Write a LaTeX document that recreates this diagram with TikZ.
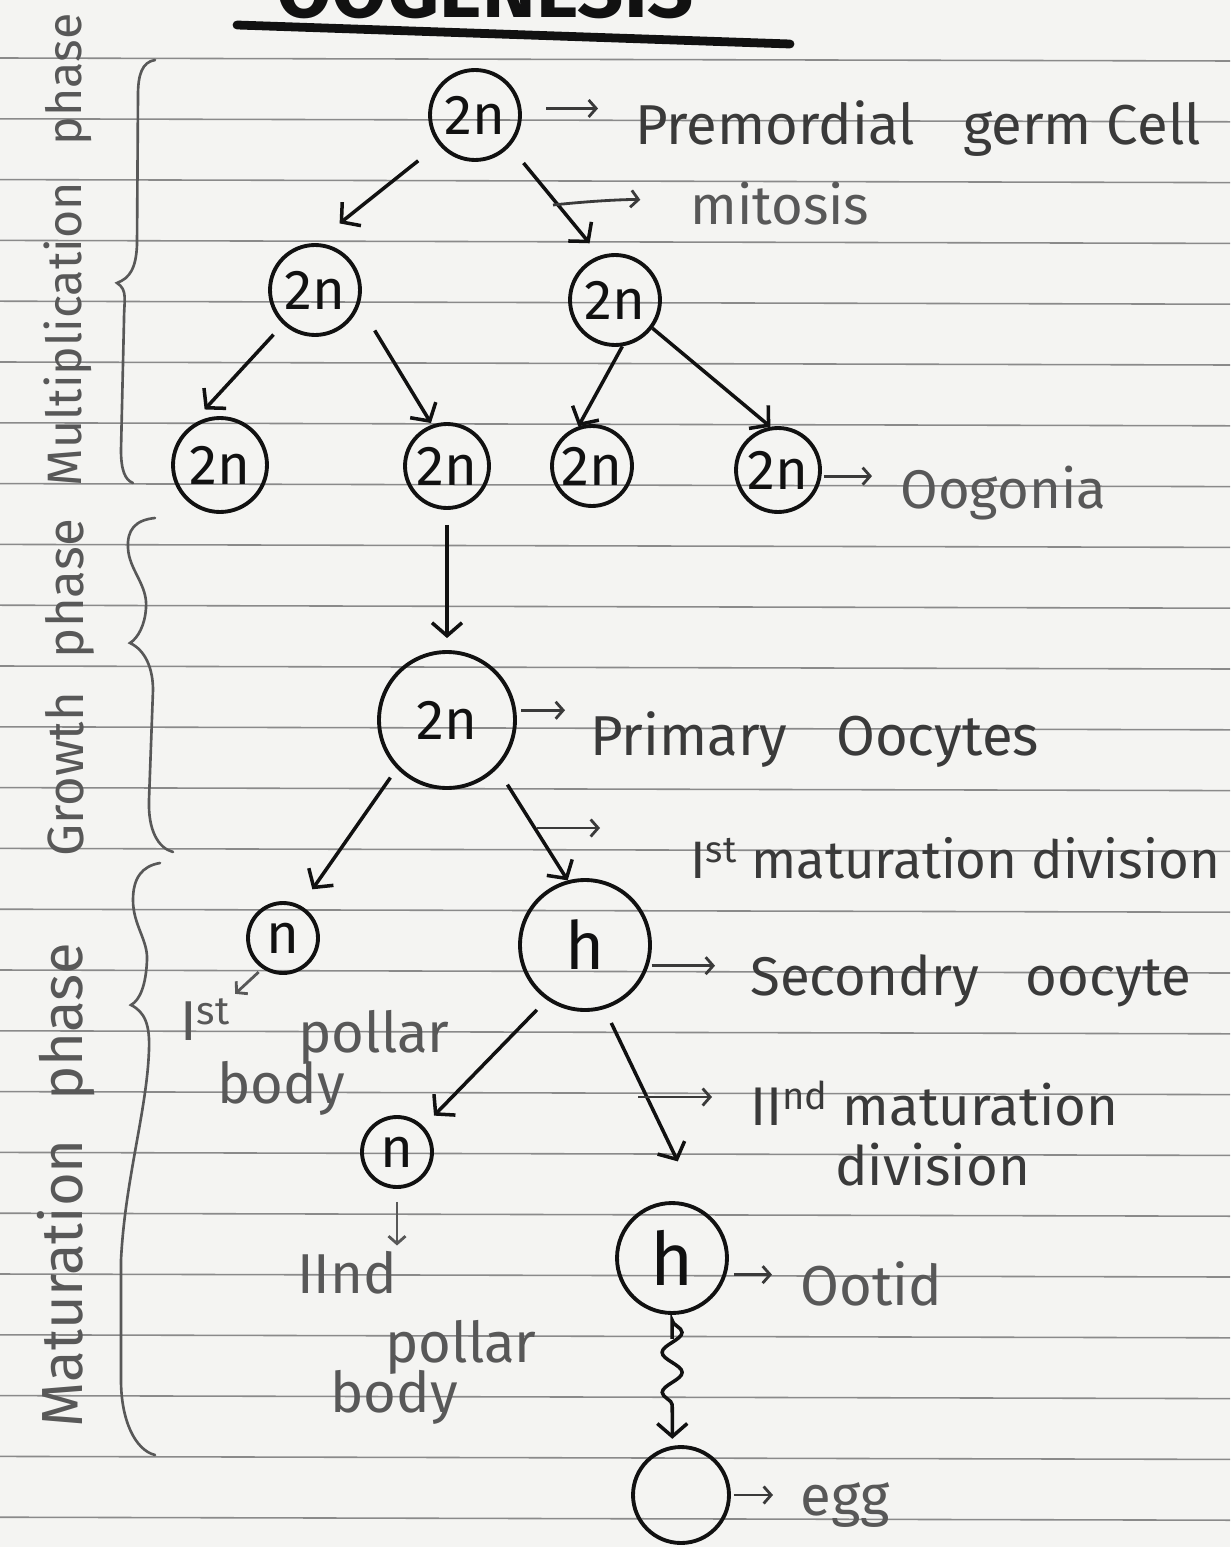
\documentclass[tikz,border=0pt]{standalone}
\usepackage{fontspec}
\setmainfont{Fira Sans}
\usetikzlibrary{arrows.meta,decorations.pathmorphing}
\definecolor{paper}{HTML}{F4F4F2}
\definecolor{ruling}{HTML}{8A8A8A}
\definecolor{ink}{HTML}{111111}
\definecolor{pencil}{HTML}{3A3A3A}
\definecolor{lead}{HTML}{585858}
\tikzset{
  cell/.style={circle, draw=ink, line width=2.2pt, inner sep=0pt, text=ink,
    font=\fontsize{32}{32}\selectfont},
  tree/.style={draw=ink, line width=2pt, -{Straight Barb[length=2.6mm,width=6mm]}},
  tag/.style={draw=pencil, line width=1.6pt, -{Straight Barb[length=1.5mm,width=3.4mm]}},
  note/.style={text=pencil, inner sep=0pt, anchor=base west,
    font=\fontsize{32}{36}\selectfont},
  phase/.style={text=lead, inner sep=0pt, rotate=90,
    font=\fontsize{29}{34}\selectfont},
  brace/.style={draw=lead, line width=1.5pt, line cap=round},
}
\begin{document}
\begin{tikzpicture}[x=0.02cm, y=-0.02cm]
\useasboundingbox (0,0) rectangle (1230,1547);
\fill[paper] (0,0) rectangle (1230,1547);
% ruled notebook lines
\foreach \k in {0,...,24}
  \draw[ruling, line width=0.9pt] (0,{58+60.8*\k}) -- (1230,{61+60.8*\k});

% heading, running off the top edge, with its underline
\node[anchor=base, inner sep=0pt, text=ink,
  font=\bfseries\fontsize{46}{46}\selectfont] (title) at (485,18) {OOGENESIS};
\draw[ink, line width=5pt, line cap=round] (237,25) -- (790,44);

% cells
\node[cell, minimum size=1.8cm]  (pgc) at (475,115) {2n};
\node[cell, minimum size=1.8cm]  (ga)  at (315,290) {2n};
\node[cell, minimum size=1.8cm]  (gb)  at (615,300) {2n};
\node[cell, minimum size=1.88cm] (og1) at (220,465) {2n};
\node[cell, minimum size=1.68cm] (og2) at (447,466) {2n};
\node[cell, minimum size=1.6cm]  (og3) at (592,466) {2n};
\node[cell, minimum size=1.68cm] (og4) at (778,470) {2n};
\node[cell, minimum size=2.72cm] (po)  at (447,720) {2n};
\node[cell, minimum size=1.4cm]  (pb1) at (283,938) {n};
\node[cell, minimum size=2.6cm, font=\fontsize{38}{38}\selectfont] (so) at (585,945) {h};
\node[cell, minimum size=1.4cm]  (pb2) at (397,1152) {n};
\node[cell, minimum size=2.2cm, font=\fontsize{42}{42}\selectfont] (ot) at (672,1258) {h};
\node[cell, minimum size=1.92cm] (egg) at (681,1495) {};

% divisions
\draw[tree, shorten <=0.52cm, shorten >=0.63cm] (pgc.219) -- (ga.north);
\draw[tree, shorten <=0.43cm, shorten >=0.32cm] (pgc.318) -- (gb.109);
\draw[tree, shorten <=0.28cm, shorten >=0.62cm] (ga.227) -- (og1.138);
\draw[tree, shorten <=0.59cm, shorten >=0.04cm] (ga.341) -- (og2.110);
\draw[tree] (gb.279) -- (og3.109);
\draw[tree] (gb.323) -- (og4.100);
\draw[tree, shorten <=0.3cm, shorten >=0.24cm] (og2.south) -- (po.north);
\draw[tree, shorten <=0.22cm, shorten >=0.4cm] (po.224) -- (pb1.61);
\draw[tree, shorten <=0.38cm] (po.316) -- (so.105);
\draw[tree, shorten <=0.28cm, shorten >=0.3cm] (so.235) -- (pb2.44);
\draw[tree, shorten <=0.31cm, shorten >=1.05cm] (so.287) -- (ot.60);
\draw[tree, decorate, decoration={snake, segment length=0.8cm, amplitude=0.2cm,
  pre length=0.1cm, post length=0.7cm}, shorten <=0.48cm, shorten >=0.14cm]
  (ot.south) -- (egg.100);

% labels
\node[note] (lpgc) at (635,145) {Premordial\hspace{0.6em} germ Cell};
\node[note, text=lead, font=\fontsize{31}{36}\selectfont] (lmit) at (690,225) {mitosis};
\node[note, text=lead, font=\fontsize{31}{36}\selectfont] (loog) at (900,508) {Oogonia};
\node[note] (lpo) at (590,755) {Primary\hspace{0.6em} Oocytes};
\node[note, font=\fontsize{30}{36}\selectfont] (lmd1) at (690,878) {I\textsuperscript{st} maturation division};
\node[note, font=\fontsize{31}{36}\selectfont] (lso) at (750,995) {Secondry\hspace{0.6em} oocyte};
\node[note, font=\fontsize{31}{36}\selectfont] (lmd2a) at (750,1125) {II\textsuperscript{nd} maturation};
\node[note, font=\fontsize{31}{36}\selectfont] (lmd2b) at (835,1185) {division};
\node[note, text=lead] (lot) at (800,1305) {Ootid};
\node[note, text=lead] (legg) at (800,1515) {egg};
\node[note, text=lead] (pb1a) at (180,1040) {I\textsuperscript{st}};
\node[note, text=lead] (pb1b) at (298,1052) {pollar};
\node[note, text=lead] (pb1c) at (217,1103) {body};
\node[note, text=lead] (pb2a) at (297,1293) {IInd};
\node[note, text=lead] (pb2b) at (385,1362) {pollar};
\node[note, text=lead] (pb2c) at (330,1412) {body};

% pointers from cells and divisions to their labels
\coordinate (mitA) at (553,205);
\coordinate (mdA) at (537,828);
\coordinate (mdB) at (638,1097);
\draw[tag, shorten <=0.5cm, shorten >=0.74cm] (pgc.8) -- (pgc.8 -| lpgc.west);
\draw[tag, shorten >=1cm] (mitA) to[bend left=6] (mitA -| lmit.west);
\draw[tag, shorten <=0.04cm, shorten >=0.56cm] (og4.352) -- (og4.352 -| loog.west);
\draw[tag, shorten <=0.1cm, shorten >=0.5cm] (po.8) -- (po.8 -| lpo.west);
\draw[tag, shorten >=1.8cm] (mdA) -- (mdA -| lmd1.west);
\draw[tag, shorten <=0.06cm, shorten >=0.7cm] (so.342) -- (so.342 -| lso.west);
\draw[tag, shorten >=0.76cm] (mdB) -- (mdB -| lmd2a.west);
\draw[tag, shorten <=0.15cm, shorten >=0.56cm] (ot.343) -- (ot.343 -| lot.west);
\draw[tag, shorten <=0.06cm, shorten >=0.54cm] (egg.east) -- (egg.east -| legg.west);
\draw[tag, draw=lead, shorten <=0.1cm, shorten >=0.12cm] (pb1.236) -- (pb1a.north east);
\draw[tag, draw=lead, shorten <=0.26cm, shorten >=0.1cm] (pb2.south) -- (pb2.south |- pb2a.north);

% phase braces
\draw[brace] (155,60) .. controls (142,62) and (138,75) .. (138,95) -- (137,245)
  .. controls (136,268) and (130,278) .. (117,283)
  .. controls (128,290) and (124,300) .. (124,320) -- (121,450)
  .. controls (121,470) and (125,480) .. (133,483);
\draw[brace] (155,518) .. controls (135,520) and (127,530) .. (128,548)
  .. controls (129,570) and (148,585) .. (146,608)
  .. controls (145,625) and (138,638) .. (130,643)
  .. controls (145,650) and (153,668) .. (153,690) -- (149,800)
  .. controls (148,830) and (158,848) .. (173,852);
\draw[brace] (160,863) .. controls (142,866) and (133,878) .. (133,900)
  .. controls (133,925) and (148,940) .. (147,960)
  .. controls (146,985) and (140,1000) .. (131,1005)
  .. controls (145,1012) and (150,1025) .. (149,1050)
  .. controls (147,1110) and (125,1180) .. (121,1260) -- (121,1380)
  .. controls (121,1420) and (135,1450) .. (155,1455);

% phase names
\node[phase, font=\fontsize{27.5}{32}\selectfont] (mph) at (68,250) {Multiplication\hspace{0.5em} phase};
\node[phase] (gph) at (70,688) {Growth\hspace{0.4em} phase};
\node[phase, font=\fontsize{33}{36}\selectfont] (mtph) at (66,1185) {Maturation\hspace{0.4em} phase};
\end{tikzpicture}
\end{document}
